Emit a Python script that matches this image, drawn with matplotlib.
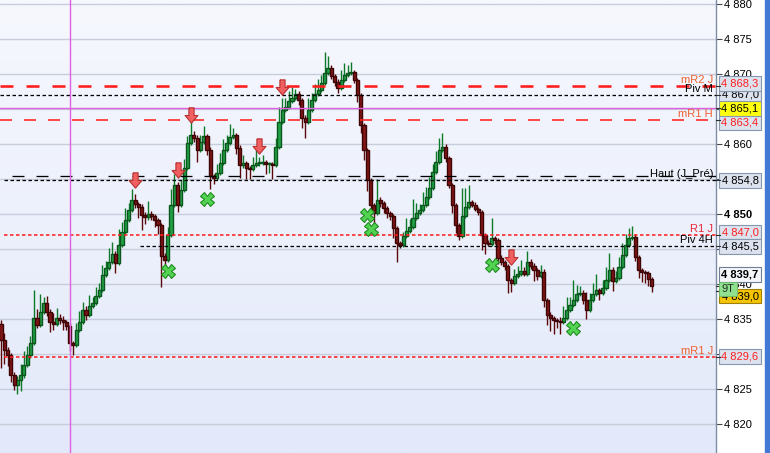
import matplotlib
matplotlib.use("Agg")
import matplotlib.pyplot as plt
from matplotlib.colors import LinearSegmentedColormap
from matplotlib.patches import Rectangle
from matplotlib.path import Path
import numpy as np

plt.rcParams['font.family'] = ['Liberation Sans', 'DejaVu Sans']
plt.rcParams['lines.scale_dashes'] = False

# candles (4H-ish bars), open of bar i = close of bar i-1
open0 = 4834.3
closes = [
    4832.0, 4830.6, 4829.9, 4827.0, 4825.6, 4826.3, 4827.0, 4828.4, 4829.9, 4831.6,
    4835.2, 4834.1, 4836.0, 4837.3, 4836.0, 4834.6, 4834.3, 4835.2, 4834.9, 4834.6,
    4834.0, 4831.6, 4831.3, 4833.4, 4834.6, 4836.3, 4835.6, 4836.9, 4837.3, 4838.3,
    4839.1, 4841.3, 4842.3, 4843.1, 4844.3, 4843.0, 4845.6, 4847.4, 4849.1, 4850.6,
    4852.0, 4851.4, 4851.0, 4849.9, 4849.6, 4850.0, 4849.7, 4849.1, 4848.4, 4844.0,
    4843.4, 4847.0, 4851.3, 4854.1, 4851.3, 4853.4, 4856.6, 4860.1, 4861.3, 4860.9,
    4859.1, 4860.3, 4861.1, 4859.1, 4855.4, 4855.1, 4855.9, 4857.3, 4859.1, 4860.1,
    4861.0, 4861.3, 4859.4, 4857.0, 4857.3, 4856.6, 4856.4, 4857.0, 4857.3, 4857.3,
    4857.4, 4857.1, 4857.1, 4857.0, 4859.6, 4863.1, 4864.9, 4865.3, 4866.1, 4866.6,
    4867.1, 4866.3, 4863.7, 4863.1, 4864.9, 4866.3, 4867.1, 4867.7, 4868.7, 4870.1,
    4870.9, 4869.7, 4868.9, 4868.0, 4869.1, 4869.9, 4870.1, 4870.3, 4869.1, 4867.0,
    4862.7, 4859.1, 4854.9, 4851.3, 4850.1, 4852.0, 4851.6, 4850.9, 4850.1, 4849.7,
    4848.0, 4845.9, 4845.6, 4846.9, 4847.6, 4848.1, 4849.4, 4850.1, 4850.6, 4851.3,
    4852.4, 4853.7, 4856.0, 4857.4, 4859.1, 4859.6, 4858.0, 4854.1, 4851.3, 4848.4,
    4846.9, 4849.7, 4851.0, 4851.7, 4851.3, 4850.7, 4850.3, 4847.0, 4845.9, 4845.7,
    4846.6, 4846.3, 4843.7, 4843.1, 4842.6, 4840.6, 4840.1, 4841.1, 4841.4, 4841.9,
    4841.4, 4843.1, 4842.6, 4842.0, 4841.1, 4841.7, 4837.7, 4835.6, 4835.1, 4834.9,
    4834.7, 4834.6, 4835.1, 4836.3, 4837.0, 4837.7, 4838.6, 4838.7, 4837.7, 4836.3,
    4837.7, 4838.6, 4839.1, 4838.7, 4839.4, 4840.6, 4842.0, 4840.4, 4840.9, 4842.4,
    4844.1, 4845.6, 4846.6, 4846.7, 4843.9, 4842.0, 4841.7, 4841.6, 4840.7, 4839.7,
]
wick_up = [
    0.6, 1.0, 0.4, 0.3, 0.4, 0.5, 1.6, 2.0, 1.2, 1.0, 4.0, 1.2, 2.6, 0.8, 1.0, 0.4, 1.3, 1.4, 0.5, 0.6,
    0.3, 0.4, 0.3, 1.0, 1.6, 1.2, 0.6, 1.5, 0.8, 1.3, 1.1, 1.4, 1.0, 2.0, 1.7, 0.4, 2.2, 1.5, 1.8, 1.0,
    1.6, 0.8, 0.3, 0.5, 0.4, 1.8, 0.4, 0.3, 0.3, 0.3, 0.4, 1.2, 2.3, 1.6, 0.5, 1.5, 1.2, 1.0, 2.0, 0.6,
    0.4, 1.0, 1.4, 0.3, 0.4, 0.3, 1.2, 1.4, 1.6, 1.2, 1.8, 1.0, 0.3, 0.4, 1.2, 0.3, 0.3, 1.2, 2.0, 0.8,
    1.0, 0.3, 0.4, 0.3, 1.2, 2.2, 1.6, 1.2, 1.4, 1.6, 0.8, 0.4, 0.3, 0.4, 1.6, 1.0, 1.4, 1.6, 1.2, 3.0,
    1.6, 0.4, 0.3, 0.4, 1.4, 1.6, 1.2, 1.4, 0.3, 0.3, 0.3, 0.3, 0.3, 0.3, 0.3, 3.0, 0.5, 0.3, 0.3, 0.3,
    0.3, 0.3, 0.3, 0.5, 1.8, 1.2, 2.7, 1.5, 0.8, 1.8, 1.4, 1.6, 1.2, 1.6, 1.8, 2.0, 0.4, 0.3, 0.3, 0.3,
    0.3, 4.0, 2.7, 2.4, 0.3, 0.4, 0.3, 0.3, 0.3, 0.4, 2.8, 0.3, 0.3, 0.4, 0.3, 0.3, 0.3, 1.0, 1.2, 1.6,
    0.6, 1.6, 0.5, 0.4, 0.3, 1.0, 0.4, 0.3, 0.4, 0.3, 0.3, 0.6, 1.8, 1.8, 1.2, 2.9, 1.2, 1.0, 0.4, 1.2,
    1.0, 1.6, 2.4, 0.4, 1.2, 1.8, 2.4, 0.4, 1.0, 1.5, 1.8, 1.6, 1.4, 1.6, 0.4, 0.3, 0.3, 0.3, 0.3, 0.3,
]
wick_dn = [
    4.0, 2.0, 1.6, 1.0, 0.7, 1.3, 1.6, 0.4, 0.3, 0.4, 0.3, 0.4, 0.3, 0.3, 0.6, 1.4, 0.8, 0.3, 0.6, 1.2,
    0.6, 1.2, 1.4, 0.3, 0.3, 0.3, 0.8, 0.3, 0.3, 0.3, 0.3, 0.3, 0.3, 0.3, 0.3, 1.4, 0.3, 0.3, 0.3, 0.3,
    0.3, 0.6, 1.6, 2.2, 1.0, 0.5, 0.6, 1.0, 1.2, 4.4, 1.0, 0.3, 0.3, 0.3, 1.0, 0.3, 0.3, 0.3, 0.3, 0.6,
    1.7, 0.3, 0.3, 0.6, 1.8, 0.8, 0.3, 0.3, 0.3, 0.3, 0.3, 0.3, 0.8, 1.8, 0.4, 1.6, 1.4, 0.3, 0.3, 0.4,
    0.3, 1.4, 1.2, 2.0, 0.3, 0.3, 0.3, 0.3, 0.3, 0.3, 0.3, 0.8, 1.4, 2.2, 0.3, 0.3, 0.3, 0.3, 0.3, 0.3,
    0.3, 0.4, 0.6, 0.7, 0.3, 0.3, 0.3, 0.3, 0.4, 1.0, 1.2, 1.4, 1.6, 1.4, 1.8, 0.3, 0.6, 0.8, 0.7, 0.6,
    1.4, 2.7, 0.4, 0.3, 0.3, 0.3, 0.3, 0.3, 0.3, 0.3, 0.3, 0.3, 0.3, 0.3, 0.3, 0.3, 0.6, 0.4, 1.2, 1.1,
    0.6, 0.3, 0.3, 0.3, 0.3, 0.3, 0.4, 2.1, 1.6, 0.3, 0.3, 0.6, 0.8, 0.4, 0.6, 1.9, 1.2, 0.3, 0.3, 0.3,
    0.3, 0.3, 0.4, 1.6, 0.5, 0.3, 1.0, 1.4, 1.8, 2.0, 1.0, 1.8, 0.3, 0.3, 0.3, 0.3, 0.3, 0.3, 0.6, 1.3,
    0.3, 0.3, 0.3, 1.0, 0.3, 0.3, 0.3, 1.4, 0.3, 0.3, 0.3, 0.3, 0.3, 0.3, 0.6, 1.2, 1.4, 1.4, 1.0, 0.8,
]

# pivot / support-resistance levels
level_names = ['mR2 J', 'Piv M', 'mR1 H', 'Haut (J_Pré)', '', 'R1 J', 'Piv 4H', 'mR1 J']
level_prices = [4868.3, 4867.0, 4863.4, 4854.8, 4855.4, 4847.0, 4845.5, 4829.6]
hline_price = 4865.1
vline_bar = 21
last_price = 4839.7
bid_price = 4839.0
yticks = list(range(4820, 4881, 5))
hidden_ticks = [4830, 4845, 4855, 4865]   # covered by the price boxes

# signals
sell_bars = [41, 54, 58, 79, 86, 156]
sell_prices = [4854.9, 4856.3, 4864.1, 4859.7, 4868.1, 4843.9]
buy_bars = [51, 63, 112, 113, 150, 175]
buy_prices = [4841.9, 4852.1, 4849.9, 4847.9, 4842.7, 4833.7]

PX = 0.72  # points per pixel at 100 dpi
RED = '#FF1E1E'
level_style = {
    'mR2 J':        dict(c=RED, lw=2.0, d=(13, 13), x0=0.0, tc='#EE6030', bt=RED, z=3, dy=2),
    'Piv M':        dict(c='black', lw=1.0, d=(3.5, 2.5), x0=0.0, tc='black', bt='black', z=1, dy=0),
    'mR1 H':        dict(c=RED, lw=1.2, d=(12, 12), x0=0.0, tc='#EE6030', bt=RED, z=2, dy=-2),
    'Haut (J_Pré)': dict(c='black', lw=1.0, d=(3.5, 2.5), x0=4, tc='black', bt='black', z=2, dy=0),
    '':             dict(c='black', lw=1.0, d=(12, 12), x0=12, tc='black', bt=None, z=2, dy=0),
    'R1 J':         dict(c=RED, lw=1.2, d=(3.5, 2.5), x0=4, tc='#E8283A', bt=RED, z=2, dy=3),
    'Piv 4H':       dict(c='black', lw=1.0, d=(3.5, 2.5), x0=140, tc='black', bt='black', z=3, dy=-1),
    'mR1 J':        dict(c=RED, lw=1.2, d=(3.5, 2.5), x0=4, tc='#EE6030', bt=RED, z=2, dy=0),
}

W, H = 770, 453
AX_W = 716
fig = plt.figure(figsize=(W / 100, H / 100), dpi=100, facecolor='white')
ax = fig.add_axes([0, 0, AX_W / W, 1])

n = len(closes)
x = np.arange(n)
c = np.array(closes)
o = np.r_[open0, c[:-1]]
hi = np.maximum(o, c) + np.array(wick_up)
lo = np.minimum(o, c) - np.array(wick_dn)
up = c >= o
bot = np.minimum(o, c)
hgt = np.maximum(np.abs(c - o), 0.12)

xmin, xmax = -0.306, 218.65
ymin, ymax = 4815.86, 4880.57

# background gradient
bg = LinearSegmentedColormap.from_list('bg', ['#F6F8FE', '#E3E9FA'])
ax.imshow(np.linspace(0, 1, 256).reshape(-1, 1), extent=[xmin, xmax, ymin, ymax],
          aspect='auto', cmap=bg, origin='upper', zorder=0)

for yv in yticks:
    ax.axhline(yv, color='#C8CDDC', lw=1.0, zorder=1)

# candles
ax.vlines(x[up], lo[up], hi[up], color='#0C7A26', lw=1.0, zorder=3)
ax.vlines(x[~up], lo[~up], hi[~up], color='#5A0808', lw=1.0, zorder=3)
ax.bar(x[up], hgt[up], bottom=bot[up], width=0.95, color='#22A046',
       edgecolor='#0A561C', lw=1.0, zorder=4)
ax.bar(x[~up], hgt[~up], bottom=bot[~up], width=0.95, color='#801616',
       edgecolor='#3C0404', lw=1.0, zorder=4)

# level lines
yt = ax.get_yaxis_transform()
for name, p in zip(level_names, level_prices):
    s = level_style[name]
    ax.plot([s['x0'] / AX_W, 1], [p, p], transform=yt, color=s['c'], lw=s['lw'] * PX * 1.3,
            linestyle=(0, (s['d'][0] * PX, s['d'][1] * PX)), zorder=5)
    if name:
        ax.annotate(name, xy=(713 / AX_W, p), xycoords=yt, xytext=(0, 1),
                    textcoords='offset pixels', ha='right', va='bottom',
                    fontsize=8, color=s['tc'], zorder=7)

ax.axhline(hline_price, color='#E060E0', lw=1.0, zorder=5)
ax.axvline(vline_bar, color='#E060E0', lw=1.0, zorder=5)

# signal markers
arrow = Path([(-0.17, 0.5), (0.17, 0.5), (0.17, 0.0), (0.42, 0.0), (0.0, -0.5),
              (-0.42, 0.0), (-0.17, 0.0), (-0.17, 0.5)])
ax.plot(sell_bars, sell_prices, linestyle='none', marker=arrow, markersize=11,
        markerfacecolor='#F06060', markeredgecolor='#B83030', markeredgewidth=0.8, zorder=6)
ax.plot(buy_bars, buy_prices, linestyle='none', marker='X', markersize=10,
        markerfacecolor='#52D452', markeredgecolor='#1F8A1F', markeredgewidth=0.8, zorder=6)

ax.set_xlim(xmin, xmax)
ax.set_ylim(ymin, ymax)

# right axis
for sp in ['left', 'top', 'bottom']:
    ax.spines[sp].set_visible(False)
ax.spines['right'].set_color('#7D8DA3')
ax.spines['right'].set_linewidth(1.0)
ax.set_xticks([])
ax.yaxis.tick_right()
ax.set_yticks(yticks, labels=['' if v in hidden_ticks else f"{v:,}".replace(',', ' ')
                              for v in yticks])
ax.tick_params(axis='y', length=4, width=0.8, color='#404850', pad=2,
               labelsize=8, labelcolor='black')
for lab in ax.get_yticklabels():
    if lab.get_text() == '4 850':
        lab.set_fontweight('bold')


def fmt(v):
    return f"{v:,.1f}".replace(',', ' ').replace('.', ',')


def box(price, text, fc, tc, dy=0, bold=False, z=8, dx=24, ec='#8797AD'):
    ax.annotate(text, xy=(1, price), xycoords=yt, xytext=(dx, dy),
                textcoords='offset pixels', ha='center', va='center',
                fontsize=8, color=tc, fontweight='bold' if bold else 'normal',
                bbox=dict(boxstyle='square,pad=0.22', fc=fc, ec=ec, lw=0.8),
                annotation_clip=False, zorder=z)
    ax.plot([1, 1.006], [price, price], transform=yt, color='#303030', lw=0.8,
            clip_on=False, zorder=z)


for name, p in zip(level_names, level_prices):
    s = level_style[name]
    if s['bt']:
        box(p, fmt(p), '#DCE3EF', s['bt'], dy=s['dy'], z=8 + s['z'])
box(hline_price, fmt(hline_price), '#FFFF10', 'black', z=14)
box(last_price, fmt(last_price), '#F4F6FA', 'black', dy=12, bold=True, z=14, ec='#6F7F95')
box(bid_price, fmt(bid_price), '#F5C400', 'black', dy=-5, z=15, ec='#A08000')
ax.annotate('9T', xy=(1, bid_price), xycoords=yt, xytext=(12, 2),
            textcoords='offset pixels', ha='center', va='center', fontsize=8,
            color='#203020', bbox=dict(boxstyle='square,pad=0.2', fc='#8FE08F', ec='#6AB86A', lw=0.6),
            annotation_clip=False, zorder=16)

# right-edge blue strip
fig.add_artist(Rectangle((765 / W, 0), 5 / W, 1, transform=fig.transFigure,
                         color='#4279D6', zorder=20))

fig.savefig('out.png', dpi=100)
